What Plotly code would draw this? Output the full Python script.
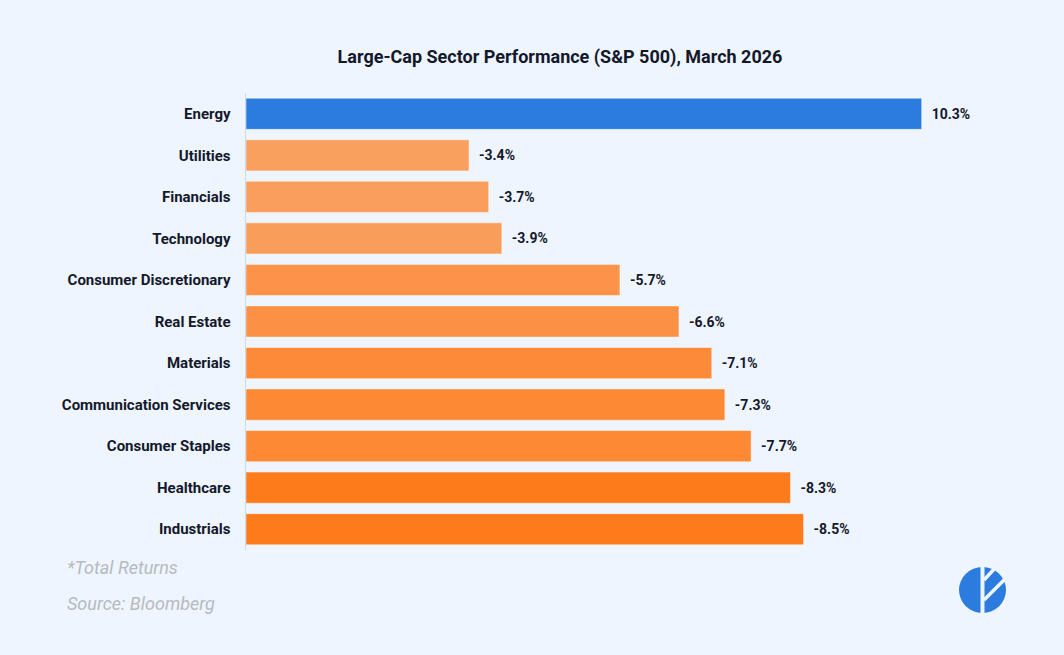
import plotly.graph_objects as go

sectors = ["Energy", "Utilities", "Financials", "Technology", "Consumer Discretionary",
           "Real Estate", "Materials", "Communication Services", "Consumer Staples",
           "Healthcare", "Industrials"]
returns = [10.3, -3.4, -3.7, -3.9, -5.7, -6.6, -7.1, -7.3, -7.7, -8.3, -8.5]
labels = ["\u00a0\u00a0" + f"{v:.1f}%" for v in returns]

bar_colors = ["#2C7BDF", "#F9A05F", "#F99E5C", "#F99D5A", "#FB944A", "#FC9145",
              "#FD8A38", "#FD8935", "#FD8934", "#FE7B1C", "#FE7B1C"]

W, H = 1064, 655
L, R, T, B = 246, 31, 93, 105
pw, ph = W - L - R, H - T - B

def px(x):
    return (x - L) / pw

def py(y):
    return (H - B - y) / ph

fig = go.Figure(go.Bar(
    x=[abs(v) for v in returns],
    y=sectors,
    orientation="h",
    width=0.75,
    marker=dict(color=bar_colors, line=dict(color="rgba(255,255,255,0.45)", width=1)),
    text=labels,
    textposition="outside",
    constraintext="none",
    cliponaxis=False,
    textfont=dict(family="Roboto", size=14, color="#14182b", weight="bold"),
    hoverinfo="skip",
))

shapes = [
    dict(type="circle", xref="paper", yref="paper",
         x0=px(959), x1=px(1006), y0=py(613), y1=py(567),
         fillcolor="#2C7BDF", line=dict(width=0)),
    dict(type="line", xref="paper", yref="paper",
         x0=px(982.5), x1=px(982.5), y0=py(615), y1=py(565),
         line=dict(color="#EEF5FE", width=4)),
    dict(type="line", xref="paper", yref="paper",
         x0=px(984), x1=px(996), y0=py(580), y1=py(567),
         line=dict(color="#EEF5FE", width=3.5)),
    dict(type="line", xref="paper", yref="paper",
         x0=px(984), x1=px(1008), y0=py(600), y1=py(576),
         line=dict(color="#EEF5FE", width=3.5)),
]

annotations = [
    dict(text="*Total Returns", xref="paper", yref="paper", x=px(65), y=py(567),
         xanchor="left", yanchor="middle", showarrow=False,
         font=dict(family="Roboto", size=18, color="#b7babf", style="italic")),
    dict(text="Source: Bloomberg", xref="paper", yref="paper", x=px(65), y=py(603),
         xanchor="left", yanchor="middle", showarrow=False,
         font=dict(family="Roboto", size=18, color="#b7babf", style="italic")),
]

fig.update_layout(
    width=W, height=H,
    margin=dict(l=L, r=R, t=T, b=B),
    paper_bgcolor="#EEF5FE",
    plot_bgcolor="#EEF5FE",
    title=dict(text="Large-Cap Sector Performance (S&P 500), March 2026",
               x=560 / W, xanchor="center", y=1 - 57 / H, yanchor="middle",
               font=dict(family="Roboto", size=18, color="#14182b", weight="bold")),
    xaxis=dict(range=[0, pw / 65.6], visible=False, showgrid=False, zeroline=False, fixedrange=True),
    yaxis=dict(autorange="reversed", showgrid=False, zeroline=False,
               showline=True, linecolor="#c6dbf7", linewidth=1.5,
               ticks="", ticklabelstandoff=11, fixedrange=True,
               tickfont=dict(family="Roboto", size=15, color="#14182b", weight="bold")),
    shapes=shapes,
    annotations=annotations,
    showlegend=False,
    bargap=0.25,
)

fig.write_html("out.html",
               config={"displayModeBar": False, "staticPlot": True},
               post_script="document.body.style.margin='0';document.body.style.overflow='hidden';document.body.style.background='#EEF5FE';")
